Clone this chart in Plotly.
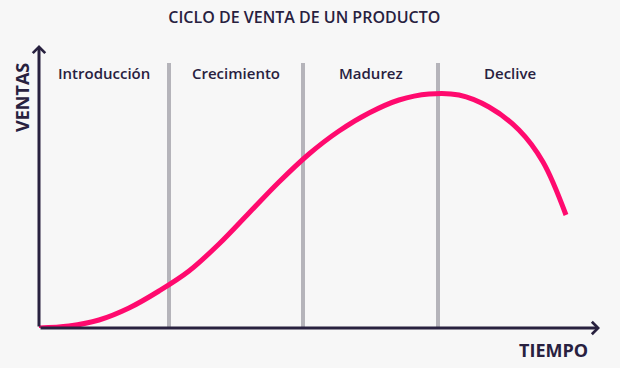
import plotly.graph_objects as go

# Data (time units ~ pixels from origin, sales in arbitrary units)
tiempo = [0, 30, 60, 90, 120, 150, 180, 210, 240, 270, 300, 330, 360, 390, 420, 450, 480, 504, 527]
ventas = [0, 2, 8, 20, 37, 57, 84, 115, 146, 174, 197, 215, 228, 234, 233, 221, 198, 166, 113]

etapas = ["Introducción", "Crecimiento", "Madurez", "Declive"]
etapa_centros = [65, 197, 332, 471]
limites = [130, 264, 399]

X_MAX = 561
Y_MAX = 283

NAVY = "#28213f"
PINK = "#ff0a6e"
GRAY = "#b5b4ba"
BG = "#f7f7f7"

fig = go.Figure()

# stage dividers
for b in limites:
    fig.add_shape(type="line", x0=b, x1=b, y0=0, y1=265, xref="x", yref="y",
                  line=dict(color=GRAY, width=4), layer="below")

fig.add_trace(go.Scatter(x=tiempo, y=ventas, mode="lines",
                         line=dict(color=PINK, width=5, shape="spline", smoothing=1.0),
                         cliponaxis=False, hoverinfo="skip"))

# axes arrows
fig.add_annotation(x=X_MAX, y=0, ax=0, ay=0, xref="x", yref="y", axref="x", ayref="y",
                   showarrow=True, arrowhead=4, arrowsize=0.8, arrowwidth=3, arrowcolor=NAVY, text="")
fig.add_annotation(x=0, y=Y_MAX, ax=0, ay=0, xref="x", yref="y", axref="x", ayref="y",
                   showarrow=True, arrowhead=4, arrowsize=0.8, arrowwidth=3, arrowcolor=NAVY, text="")

for name, cx in zip(etapas, etapa_centros):
    fig.add_annotation(x=cx, y=255, xref="x", yref="y", text=name, showarrow=False,
                       font=dict(family="Open Sans", size=15, color=NAVY, weight=600))

fig.update_layout(
    width=620, height=368,
    margin=dict(l=39, r=20, t=45, b=40),
    paper_bgcolor=BG, plot_bgcolor=BG,
    showlegend=False,
    title=dict(text="CICLO DE VENTA DE UN PRODUCTO", x=0.473, xanchor="center", y=0.952, yanchor="middle",
               xref="paper", font=dict(family="Open Sans", size=16, color=NAVY, weight=600)),
    xaxis=dict(range=[0, X_MAX], visible=False, fixedrange=True),
    yaxis=dict(range=[0, Y_MAX], visible=False, fixedrange=True),
)

# axis titles (paper coordinates so they are not hidden outside the axis range)
fig.add_annotation(x=-0.0303, y=0.813, xref="paper", yref="paper", text="VENTAS", textangle=-90,
                   xanchor="center", yanchor="middle",
                   showarrow=False, font=dict(family="Open Sans", size=18, color=NAVY, weight=700))
fig.add_annotation(x=0.918, y=-0.078, xref="paper", yref="paper", text="TIEMPO",
                   xanchor="center", yanchor="middle", showarrow=False,
                   font=dict(family="Open Sans", size=18, color=NAVY, weight=700))

fig.write_html("out.html", config={"displayModeBar": False},
               post_script="document.body.style.margin='0';document.body.style.background='#f7f7f7';")
